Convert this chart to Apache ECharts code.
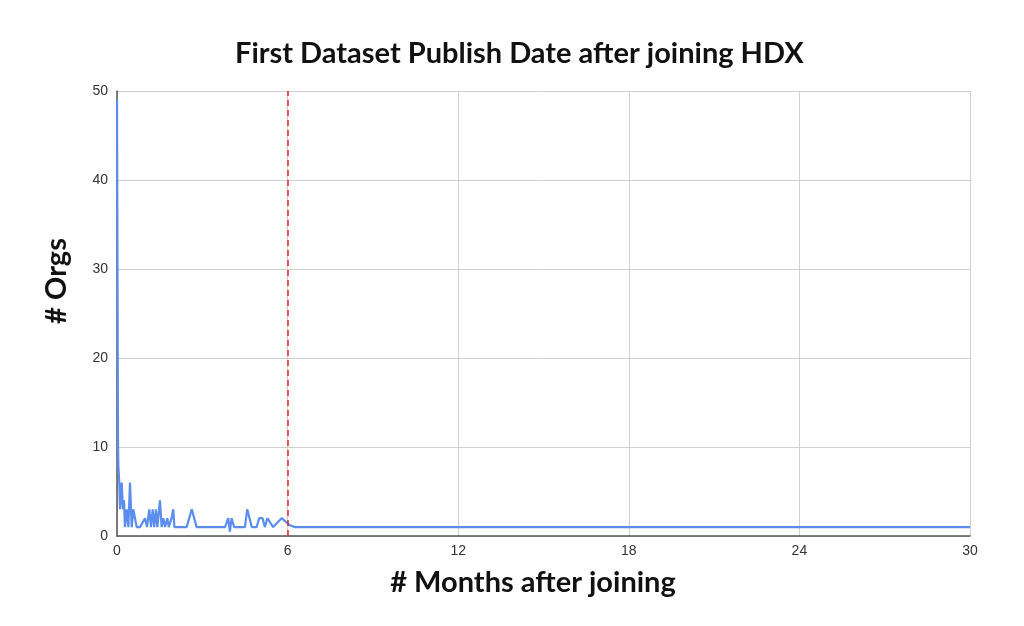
<!DOCTYPE html>
<html>
<head>
<meta charset="utf-8">
<title>First Dataset Publish Date after joining HDX</title>
<script src="https://cdn.jsdelivr.net/npm/echarts@6/dist/echarts.min.js"></script>
<style>
  html, body { margin: 0; padding: 0; background: #fff; }
  #chart { width: 1024px; height: 626px; }
</style>
</head>
<body>
<div id="chart"></div>
<script>
// months after joining (x) and number of orgs (y)
const months = [
  0, 0.035, 0.046, 0.081, 0.106, 0.165, 0.21, 0.246, 0.28, 0.34, 0.40, 0.457, 0.517,
  0.573, 0.633, 0.693, 0.81, 0.985, 1.055, 1.136, 1.196, 1.256, 1.31, 1.37, 1.42,
  1.51, 1.57, 1.63, 1.69, 1.77, 1.82, 1.92, 1.98, 2.02, 2.45, 2.63, 2.8, 3.8, 3.91,
  3.97, 4.03, 4.12, 4.5, 4.58, 4.74, 4.91, 5.0, 5.12, 5.2, 5.29, 5.49, 5.79, 6.08,
  6.26, 30
];
const orgs = [
  49, 11, 8, 6, 3, 6, 3, 4, 1, 3, 1, 6, 1,
  3, 2, 1, 1, 2, 1, 3, 1, 3, 1, 3, 1,
  4, 1, 2, 1, 2, 1, 2, 3, 1, 1, 3, 1, 1, 2,
  0.5, 2, 1, 1, 3, 1, 1, 2, 2, 1, 2, 1, 2, 1.2,
  1, 1
];
const xTicks = [0, 6, 12, 18, 24, 30];
const yTicks = [0, 10, 20, 30, 40, 50];
const cutoffMonth = 6;

const nameFont = { fontFamily: 'Lato', fontWeight: 'bold', fontSize: 29, fill: '#111' };

const chart = echarts.init(document.getElementById('chart'));
const option = {
  animation: false,
  title: {
    text: 'First Dataset Publish Date after joining HDX',
    left: 230,
    top: 34,
    textStyle: { fontFamily: 'Lato', fontWeight: 'bold', fontSize: 29, color: '#111' }
  },
  grid: { left: 117, right: 54, top: 91, bottom: 90 },
  graphic: [
    {
      type: 'text',
      x: 533, y: 583,
      style: Object.assign({ text: '# Months after joining', align: 'center', verticalAlign: 'middle' }, nameFont)
    },
    {
      type: 'text',
      x: 57, y: 281,
      rotation: Math.PI / 2,
      style: Object.assign({ text: '# Orgs', align: 'center', verticalAlign: 'middle' }, nameFont)
    }
  ],
  xAxis: {
    type: 'value',
    min: xTicks[0],
    max: xTicks[xTicks.length - 1],
    interval: 6,
    axisLine: { lineStyle: { color: '#555', width: 1.5 } },
    axisTick: { show: false },
    axisLabel: { fontFamily: 'Liberation Sans', fontSize: 14, color: '#333', margin: 8 },
    splitLine: { show: true, lineStyle: { color: '#d0d0d0' } }
  },
  yAxis: {
    type: 'value',
    min: yTicks[0],
    max: yTicks[yTicks.length - 1],
    interval: 10,
    axisLine: { show: true, lineStyle: { color: '#555', width: 1.5 } },
    axisTick: { show: false },
    axisLabel: { fontFamily: 'Liberation Sans', fontSize: 14, color: '#333', margin: 9 },
    splitLine: { show: true, lineStyle: { color: '#d0d0d0' } }
  },
  series: [{
    type: 'line',
    data: months.map((m, i) => [m, orgs[i]]),
    showSymbol: false,
    lineStyle: { color: '#5b8def', width: 2.2 },
    markLine: {
      silent: true,
      symbol: 'none',
      label: { show: false },
      lineStyle: { color: '#ee2222', type: [6, 4], width: 1.5 },
      data: [{ xAxis: cutoffMonth }]
    }
  }]
};
chart.setOption(option);
</script>
</body>
</html>
